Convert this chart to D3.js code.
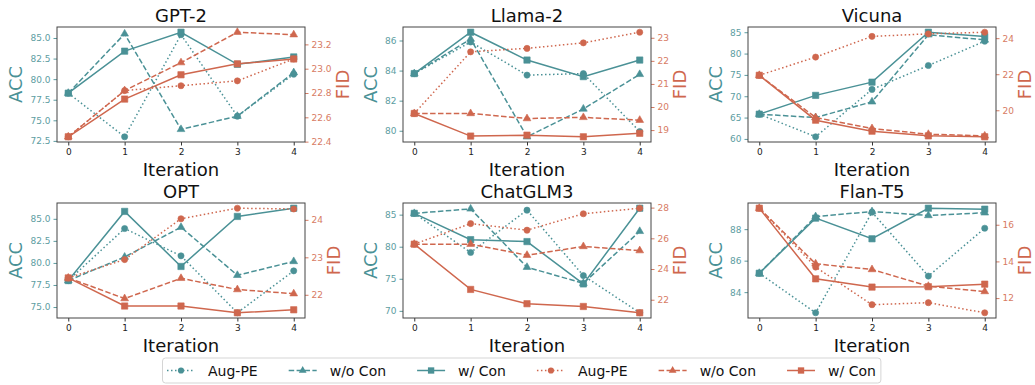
<!DOCTYPE html>
<html>
<head>
<meta charset="utf-8">
<script src="https://cdn.jsdelivr.net/npm/d3@7"></script>
<style>
  body { margin: 0; background: #fff; }
  text { font-family: "DejaVu Sans", sans-serif; }
</style>
</head>
<body>
<svg id="chart" width="1035" height="385"></svg>
<script>
const iterations = [0, 1, 2, 3, 4];
const models = ["GPT-2", "Llama-2", "Vicuna", "OPT", "ChatGLM3", "Flan-T5"];

// ACC (left axis), one row per model
const accAugPE = [
    [78.3, 73.0, 85.4, 75.5, 80.6],
    [83.8, 85.9, 83.7, 83.8, 79.95],
    [65.8, 60.5, 71.6, 77.2, 82.9],
    [78.0, 83.9, 80.8, 74.35, 79.1],
    [85.2, 79.1, 85.7, 75.5, 69.7],
    [85.2, 82.69, 89.08, 85.02, 88.06]
];
const accWoCon = [
    [78.3, 85.5, 73.9, 75.5, 80.8],
    [83.8, 86.1, 79.6, 81.45, 83.75],
    [65.8, 65.0, 68.7, 84.4, 83.2],
    [78.0, 80.67, 84.05, 78.6, 80.17],
    [85.2, 85.9, 76.8, 74.3, 82.4],
    [85.2, 88.8, 89.12, 88.87, 89.04]
];
const accWCon = [
    [78.3, 83.4, 85.7, 81.8, 82.7],
    [83.8, 86.55, 84.7, 83.6, 84.7],
    [65.8, 70.2, 73.3, 85.0, 84.0],
    [78.0, 85.84, 79.6, 85.27, 86.2],
    [85.2, 81.1, 80.8, 74.2, 86.0],
    [85.2, 88.7, 87.39, 89.33, 89.27]
];

// FID (right axis)
const fidAugPE = [
    [22.44, 22.82, 22.86, 22.9, 23.08],
    [19.72, 22.39, 22.54, 22.78, 23.24],
    [21.94, 22.95, 24.1, 24.24, 24.33],
    [22.45, 22.94, 24.03, 24.31, 24.29],
    [25.62, 26.96, 26.53, 27.6, 27.96],
    [16.9, 13.69, 11.64, 11.75, 11.2]
];
const fidWoCon = [
    [22.44, 22.82, 23.05, 23.3, 23.28],
    [19.72, 19.72, 19.5, 19.55, 19.43],
    [21.94, 19.6, 18.99, 18.67, 18.58],
    [22.45, 21.9, 22.44, 22.14, 22.03],
    [25.62, 25.62, 24.9, 25.47, 25.2],
    [16.9, 13.87, 13.56, 12.65, 12.36]
];
const fidWCon = [
    [22.44, 22.75, 22.95, 23.04, 23.08],
    [19.72, 18.74, 18.78, 18.71, 18.86],
    [21.94, 19.45, 18.84, 18.58, 18.53],
    [22.45, 21.7, 21.7, 21.52, 21.6],
    [25.62, 22.67, 21.74, 21.56, 21.15],
    [16.9, 13.05, 12.6, 12.62, 12.76]
];

const accTicks = [
    ["72.5", "75.0", "77.5", "80.0", "82.5", "85.0"],
    ["80", "82", "84", "86"],
    ["60", "65", "70", "75", "80", "85"],
    ["75.0", "77.5", "80.0", "82.5", "85.0"],
    ["70", "75", "80", "85"],
    ["84", "86", "88"]
];
const fidTicks = [
    ["22.4", "22.6", "22.8", "23.0", "23.2"],
    ["19", "20", "21", "22", "23"],
    ["20", "22", "24"],
    ["22", "23", "24"],
    ["22", "24", "26", "28"],
    ["12", "14", "16"]
];
const seriesNames = ["Aug-PE", "w/o Con", "w/ Con"];

const teal = "#4a9196";
const tealText = "#5d9da1";
const orange = "#cf674e";
const orangeText = "#d77b63";

// matplotlib-ish line styles: dotted, dashed, solid
const styles = [
    {dash: "1.5,2.5", symbol: d3.symbolCircle, size: 30},
    {dash: "5.5,2.4", symbol: d3.symbolTriangle, size: 26},
    {dash: null, symbol: d3.symbolSquare, size: 40}
];

const svg = d3.select("svg#chart");

const padDomain = function (values) {
    let [lo, hi] = d3.extent(values);
    let pad = (hi - lo) * 0.05;
    return [lo - pad, hi + pad];
}

const drawSeries = function (g, xScale, yScale, values, style, color) {
    let line = d3.line()
        .x((d, j) => xScale(iterations[j]))
        .y(d => yScale(d));
    g.append("path")
        .datum(values)
        .attr("d", line)
        .attr("fill", "none")
        .attr("stroke", color)
        .attr("stroke-width", 1.5)
        .attr("stroke-dasharray", style.dash);
    values.forEach((v, j) => {
        g.append("path")
            .attr("d", d3.symbol(style.symbol, style.size)())
            .attr("transform", `translate(${xScale(iterations[j])}, ${yScale(v)})`)
            .attr("fill", color)
            .attr("stroke", color)
            .attr("stroke-opacity", 0.6)
            .attr("stroke-width", 1);
    });
}

const drawPanel = function (i, left, top) {
    let width = 248, height = 115;
    let g = svg.append("g").attr("transform", `translate(${left}, ${top})`);

    let xScale = d3.scaleLinear().domain([-0.2, 4.2]).range([0, width]);
    let accScale = d3.scaleLinear()
        .domain(padDomain([accAugPE[i], accWoCon[i], accWCon[i]].flat()))
        .range([height, 0]);
    let fidScale = d3.scaleLinear()
        .domain(padDomain([fidAugPE[i], fidWoCon[i], fidWCon[i]].flat()))
        .range([height, 0]);

    // axes
    let xAxis = g.append("g")
        .attr("transform", `translate(0, ${height})`)
        .call(d3.axisBottom(xScale).tickValues(iterations).tickFormat(d3.format("d"))
            .tickSize(3.5).tickPadding(3));
    xAxis.selectAll("text").style("font-size", "9px").style("fill", "#222");
    xAxis.selectAll("line").style("stroke", "#333");

    let leftAxis = g.append("g")
        .call(d3.axisLeft(accScale)
            .tickValues(accTicks[i].map(Number))
            .tickFormat((d, j) => accTicks[i][j])
            .tickSize(3.5).tickPadding(3));
    leftAxis.selectAll("text").style("font-size", "9px").style("fill", tealText);
    leftAxis.selectAll("line").style("stroke", tealText);

    let rightAxis = g.append("g")
        .attr("transform", `translate(${width}, 0)`)
        .call(d3.axisRight(fidScale)
            .tickValues(fidTicks[i].map(Number))
            .tickFormat((d, j) => fidTicks[i][j])
            .tickSize(3.5).tickPadding(3));
    rightAxis.selectAll("text").style("font-size", "9px").style("fill", orangeText);
    rightAxis.selectAll("line").style("stroke", orangeText);

    g.selectAll(".domain").remove();

    // series: ACC first, FID (twin axis) on top
    let accRows = [accAugPE[i], accWoCon[i], accWCon[i]];
    let fidRows = [fidAugPE[i], fidWoCon[i], fidWCon[i]];
    accRows.forEach((row, k) => drawSeries(g, xScale, accScale, row, styles[k], teal));
    fidRows.forEach((row, k) => drawSeries(g, xScale, fidScale, row, styles[k], orange));

    g.append("rect")
        .attr("width", width)
        .attr("height", height)
        .attr("fill", "none")
        .attr("stroke", "#444")
        .attr("stroke-width", 1);

    // labels
    let leftW = d3.max(leftAxis.selectAll("text").nodes(), n => n.getComputedTextLength());
    let rightW = d3.max(rightAxis.selectAll("text").nodes(), n => n.getComputedTextLength());

    g.append("text")
        .attr("x", width / 2)
        .attr("y", -5)
        .attr("text-anchor", "middle")
        .style("font-size", "18px")
        .style("fill", "#111")
        .text(models[i]);

    g.append("text")
        .attr("x", width / 2)
        .attr("y", height + 33.5)
        .attr("text-anchor", "middle")
        .style("font-size", "18px")
        .style("fill", "#111")
        .text("Iteration");

    let accX = -7 - leftW - 14;
    g.append("text")
        .attr("transform", `translate(${accX}, ${height / 2}) rotate(-90)`)
        .attr("text-anchor", "middle")
        .attr("dominant-baseline", "central")
        .style("font-size", "18px")
        .style("fill", teal)
        .text("ACC");

    let fidX = width + 7 + rightW + 10;
    g.append("text")
        .attr("transform", `translate(${fidX}, ${height / 2}) rotate(-90)`)
        .attr("text-anchor", "middle")
        .attr("dominant-baseline", "central")
        .style("font-size", "18px")
        .style("fill", orange)
        .text("FID");
}

const colLefts = [57, 403, 748];
const rowTops = [27, 203];
models.forEach((m, i) => drawPanel(i, colLefts[i % 3], rowTops[Math.floor(i / 3)]));

// legend
const drawLegend = function () {
    let lg = svg.append("g");
    let box = lg.append("rect")
        .attr("y", 358)
        .attr("height", 25)
        .attr("rx", 3)
        .attr("fill", "#fff")
        .attr("stroke", "#d5d5d5")
        .attr("stroke-width", 1);
    let x = 167, cy = 370.5;
    [teal, orange].forEach(color => {
        styles.forEach((style, k) => {
            lg.append("line")
                .attr("x1", x).attr("x2", x + 28)
                .attr("y1", cy).attr("y2", cy)
                .attr("stroke", color)
                .attr("stroke-width", 1.5)
                .attr("stroke-dasharray", style.dash);
            lg.append("path")
                .attr("d", d3.symbol(style.symbol, style.size)())
                .attr("transform", `translate(${x + 14}, ${cy})`)
                .attr("fill", color);
            let t = lg.append("text")
                .attr("x", x + 41)
                .attr("y", cy)
                .attr("dominant-baseline", "central")
                .style("font-size", "14px")
                .style("fill", "#111")
                .text(seriesNames[k]);
            x = x + 41 + t.node().getComputedTextLength() + 31;
        });
    });
    box.attr("x", 162.5).attr("width", x - 31 + 5 - 162.5);
}
drawLegend();
</script>
</body>
</html>
